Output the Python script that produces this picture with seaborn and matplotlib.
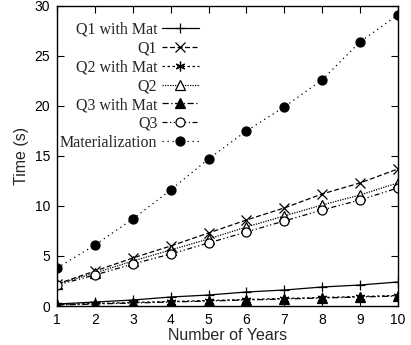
import numpy as np
import pandas as pd
import seaborn as sns
import matplotlib
matplotlib.use("Agg")
import matplotlib.pyplot as plt

years = [1, 2, 3, 4, 5, 6, 7, 8, 9, 10]
q1_mat = [0.2, 0.4, 0.6, 0.9, 1.1, 1.4, 1.6, 1.9, 2.1, 2.4]
q1 = [2.2, 3.5, 4.8, 6.0, 7.3, 8.6, 9.8, 11.2, 12.3, 13.7]
q2_mat = [0.15, 0.25, 0.35, 0.45, 0.55, 0.65, 0.75, 0.85, 0.95, 1.05]
q2 = [2.2, 3.3, 4.5, 5.6, 6.7, 7.9, 9.0, 10.1, 11.1, 12.3]
q3_mat = [0.1, 0.2, 0.3, 0.4, 0.5, 0.6, 0.7, 0.8, 0.9, 1.0]
q3 = [2.1, 3.1, 4.2, 5.2, 6.3, 7.4, 8.5, 9.6, 10.6, 11.8]
mater = [3.8, 6.1, 8.7, 11.6, 14.7, 17.5, 19.9, 22.6, 26.4, 29.1]

names = ["Q1 with Mat", "Q1", "Q2 with Mat", "Q2", "Q3 with Mat", "Q3", "Materialization"]
series = [q1_mat, q1, q2_mat, q2, q3_mat, q3, mater]

# gnuplot-ish styles: (marker, linestyle, filled)
styles = [
    ("+", "-", True),
    ("x", (0, (4, 2)), True),
    ((6, 2, 0), (0, (2, 2)), True),
    ("^", (0, (1, 1)), False),
    ("^", (0, (5, 2, 1, 2)), True),
    ("o", (0, (4, 2, 1, 2, 1, 2)), False),
    ("o", (0, (1, 3)), True),
]

sns.set_style("ticks")
plt.rcParams["font.family"] = ["Liberation Sans", "DejaVu Sans"]

fig, ax = plt.subplots(figsize=(4.11, 3.45), dpi=100)
fig.subplots_adjust(left=0.139, right=0.968, top=0.983, bottom=0.113)

for name, vals, (m, ls, filled) in zip(names, series, styles):
    sns.lineplot(x=years, y=vals, ax=ax, color="black", marker=m, linestyle=ls,
                 linewidth=0.9, markersize=7 if m in ("+", "x", (6, 2, 0)) else 6.5,
                 markeredgewidth=0.9,
                 markerfacecolor="black" if filled else "white",
                 markeredgecolor="black", label=name, legend=False)

ax.set_xlim(1, 10)
ax.set_ylim(0, 30)
ax.set_xticks(years)
ax.set_yticks([0, 5, 10, 15, 20, 25, 30])
ax.tick_params(direction="in", top=True, right=True, length=5, width=0.8,
               labelsize=10, colors="black", pad=5)
for s in ax.spines.values():
    s.set_linewidth(1.0)
    s.set_color("black")

ax.set_xlabel("Number of Years", fontsize=11.5, labelpad=1)
ax.set_ylabel("Time (s)", fontsize=11.5, labelpad=4)

leg = ax.legend(loc="upper left", markerfirst=False, frameon=False,
                prop={"family": "Liberation Serif", "size": 11.5},
                handlelength=2.3, handletextpad=0.3, labelspacing=0.18,
                borderaxespad=0.3, bbox_to_anchor=(-0.025, 0.985))

fig.savefig("out.png", dpi=100)
